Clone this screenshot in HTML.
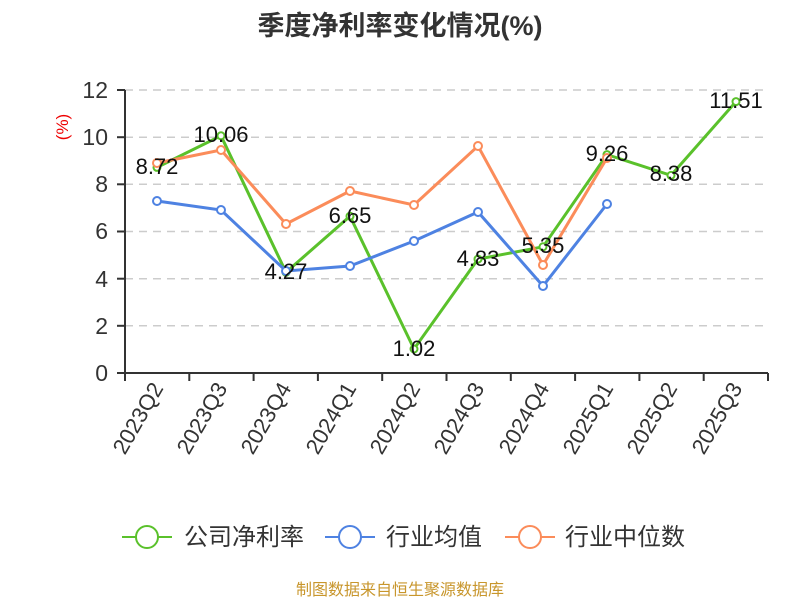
<!DOCTYPE html>
<html><head><meta charset="utf-8"><style>
body{margin:0;background:#fff;}
svg{display:block;font-family:"Liberation Sans","Noto Sans CJK SC",sans-serif;}
</style></head><body>
<svg width="800" height="600" viewBox="0 0 800 600">
<text x="400" y="35" text-anchor="middle" font-size="27" font-weight="bold" fill="#333">季度净利率变化情况(%)</text>
<text transform="translate(68,127) rotate(-90)" text-anchor="middle" font-size="17" fill="#e00">(%)</text>
<g stroke="#ccc" stroke-dasharray="8,6" stroke-width="1.5">
<line x1="125" y1="90" x2="768" y2="90"/><line x1="125" y1="137.2" x2="768" y2="137.2"/>
<line x1="125" y1="184.3" x2="768" y2="184.3"/><line x1="125" y1="231.5" x2="768" y2="231.5"/>
<line x1="125" y1="278.7" x2="768" y2="278.7"/><line x1="125" y1="325.8" x2="768" y2="325.8"/>
</g>
<g stroke="#333" stroke-width="2">
<line x1="125" y1="90" x2="125" y2="373"/><line x1="125" y1="373" x2="768" y2="373"/>
<line x1="117" y1="90" x2="125" y2="90"/><line x1="117" y1="137.2" x2="125" y2="137.2"/><line x1="117" y1="184.3" x2="125" y2="184.3"/><line x1="117" y1="231.5" x2="125" y2="231.5"/><line x1="117" y1="278.7" x2="125" y2="278.7"/><line x1="117" y1="325.8" x2="125" y2="325.8"/><line x1="117" y1="373" x2="125" y2="373"/>
<line x1="125" y1="373" x2="125" y2="381"/><line x1="189.3" y1="373" x2="189.3" y2="381"/><line x1="253.6" y1="373" x2="253.6" y2="381"/><line x1="317.9" y1="373" x2="317.9" y2="381"/><line x1="382.2" y1="373" x2="382.2" y2="381"/><line x1="446.5" y1="373" x2="446.5" y2="381"/><line x1="510.8" y1="373" x2="510.8" y2="381"/><line x1="575.1" y1="373" x2="575.1" y2="381"/><line x1="639.4" y1="373" x2="639.4" y2="381"/><line x1="703.7" y1="373" x2="703.7" y2="381"/><line x1="768" y1="373" x2="768" y2="381"/>
</g>
<g font-size="23" fill="#333" text-anchor="end">
<text x="108" y="98">12</text><text x="108" y="145">10</text><text x="108" y="192">8</text><text x="108" y="239">6</text><text x="108" y="287">4</text><text x="108" y="334">2</text><text x="108" y="381">0</text>
</g>
<g font-size="22" fill="#333" text-anchor="end">
<text transform="translate(164,388) rotate(-60)">2023Q2</text>
<text transform="translate(228,388) rotate(-60)">2023Q3</text>
<text transform="translate(292,388) rotate(-60)">2023Q4</text>
<text transform="translate(357,388) rotate(-60)">2024Q1</text>
<text transform="translate(421,388) rotate(-60)">2024Q2</text>
<text transform="translate(485,388) rotate(-60)">2024Q3</text>
<text transform="translate(550,388) rotate(-60)">2024Q4</text>
<text transform="translate(614,388) rotate(-60)">2025Q1</text>
<text transform="translate(678,388) rotate(-60)">2025Q2</text>
<text transform="translate(743,388) rotate(-60)">2025Q3</text>
</g>
<g fill="#fff" stroke-width="2">
<polyline fill="none" stroke="#5ac12b" stroke-width="3" points="157,167.4 221,135.8 286,272.3 350,216.2 414,349 478,259.1 543,246.8 607,154.6 671,175.4 736,101.6"/>
<polyline fill="none" stroke="#4e82e2" stroke-width="3" points="157,201 221,210 286,271 350,266 414,241 478,212 543,286 607,204"/>
<polyline fill="none" stroke="#fb8c5a" stroke-width="3" points="157,163 221,150 286,224 350,191 414,205 478,146 543,265 607,158"/>
<g stroke="#5ac12b"><circle cx="157" cy="167.4" r="3.5"/><circle cx="221" cy="135.8" r="3.5"/><circle cx="286" cy="272.3" r="3.5"/><circle cx="350" cy="216.2" r="3.5"/><circle cx="414" cy="349" r="3.5"/><circle cx="478" cy="259.1" r="3.5"/><circle cx="543" cy="246.8" r="3.5"/><circle cx="607" cy="154.6" r="3.5"/><circle cx="671" cy="175.4" r="3.5"/><circle cx="736" cy="101.6" r="3.5"/></g>
<g stroke="#4e82e2"><circle cx="157" cy="201" r="4"/><circle cx="221" cy="210" r="4"/><circle cx="286" cy="271" r="4"/><circle cx="350" cy="266" r="4"/><circle cx="414" cy="241" r="4"/><circle cx="478" cy="212" r="4"/><circle cx="543" cy="286" r="4"/><circle cx="607" cy="204" r="4"/></g>
<g stroke="#fb8c5a"><circle cx="157" cy="163" r="4"/><circle cx="221" cy="150" r="4"/><circle cx="286" cy="224" r="4"/><circle cx="350" cy="191" r="4"/><circle cx="414" cy="205" r="4"/><circle cx="478" cy="146" r="4"/><circle cx="543" cy="265" r="4"/><circle cx="607" cy="158" r="4"/></g>
</g>
<g font-size="22" fill="#111" text-anchor="middle">
<text x="157" y="174">8.72</text><text x="221" y="142">10.06</text><text x="286" y="279">4.27</text><text x="350" y="223">6.65</text><text x="414" y="356">1.02</text><text x="478" y="266">4.83</text><text x="543" y="253">5.35</text><text x="607" y="161">9.26</text><text x="671" y="181">8.38</text><text x="736" y="108">11.51</text>
</g>
<g stroke-width="2" fill="#fff">
<line x1="122" y1="537" x2="172" y2="537" stroke="#5ac12b"/><circle cx="147" cy="537" r="11" stroke="#5ac12b"/>
<line x1="325" y1="537" x2="375" y2="537" stroke="#4e82e2"/><circle cx="350" cy="537" r="11" stroke="#4e82e2"/>
<line x1="505" y1="537" x2="555" y2="537" stroke="#fb8c5a"/><circle cx="530" cy="537" r="11" stroke="#fb8c5a"/>
</g>
<g font-size="24" fill="#333">
<text x="184" y="545">公司净利率</text><text x="386" y="545">行业均值</text><text x="565" y="545">行业中位数</text>
</g>
<text x="400" y="595" text-anchor="middle" font-size="16" fill="#c8962c">制图数据来自恒生聚源数据库</text>
</svg>
</body></html>
